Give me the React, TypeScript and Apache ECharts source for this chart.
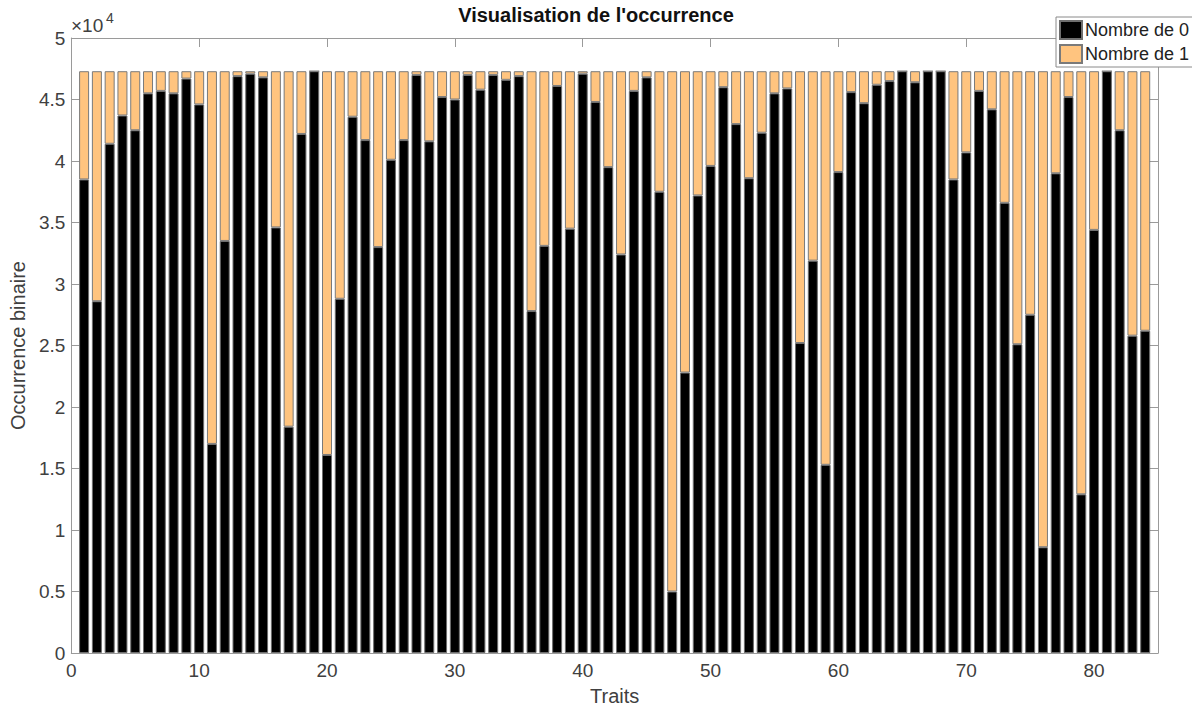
import React, { useEffect, useRef } from "react";
import * as echarts from "echarts";

const traits = [
  1, 2, 3, 4, 5, 6, 7, 8, 9, 10, 11, 12, 13, 14, 15, 16, 17, 18, 19, 20, 21,
  22, 23, 24, 25, 26, 27, 28, 29, 30, 31, 32, 33, 34, 35, 36, 37, 38, 39, 40,
  41, 42, 43, 44, 45, 46, 47, 48, 49, 50, 51, 52, 53, 54, 55, 56, 57, 58, 59,
  60, 61, 62, 63, 64, 65, 66, 67, 68, 69, 70, 71, 72, 73, 74, 75, 76, 77, 78,
  79, 80, 81, 82, 83, 84,
];

const nombreDe0 = [
  38500, 28600, 41400, 43700, 42500, 45500, 45700, 45500, 46700, 44600,
  17000, 33500, 46900, 47100, 46800, 34600, 18400, 42200, 47300, 16100,
  28800, 43600, 41700, 33000, 40100, 41700, 47000, 41600, 45200, 45000,
  47000, 45800, 47000, 46600, 46900, 27800, 33100, 46100, 34500, 47100,
  44800, 39500, 32400, 45700, 46800, 37500, 5000, 22800, 37200, 39600,
  46000, 43000, 38600, 42300, 45500, 45900, 25200, 31900, 15300, 39100,
  45600, 44700, 46200, 46500, 47300, 46400, 47300, 47300, 38500, 40700,
  45700, 44200, 36600, 25100, 27500, 8600, 39000, 45200, 12900, 34400,
  47300, 42500, 25800, 26200,
];

const nombreDe1 = [
  8800, 18700, 5900, 3600, 4800, 1800, 1600, 1800, 600, 2700,
  30300, 13800, 400, 200, 500, 12700, 28900, 5100, 0, 31200,
  18500, 3700, 5600, 14300, 7200, 5600, 300, 5700, 2100, 2300,
  300, 1500, 300, 700, 400, 19500, 14200, 1200, 12800, 200,
  2500, 7800, 14900, 1600, 500, 9800, 42300, 24500, 10100, 7700,
  1300, 4300, 8700, 5000, 1800, 1400, 22100, 15400, 32000, 8200,
  1700, 2600, 1100, 800, 0, 900, 0, 0, 8800, 6600,
  1600, 3100, 10700, 22200, 19800, 38700, 8300, 2100, 34400, 12900,
  0, 4800, 21500, 21100,
];

const seriesNames = ["Nombre de 0", "Nombre de 1"];
// x axis runs 0..85; the bars sit on the traits 1..84
const xAxisStart = 0;
const xAxisEnd = 85;
const xTickStep = 10;
const yMax = 50000;
const yTickStep = 5000;

const FONT = "'Liberation Sans', Arial, Helvetica, sans-serif";
const AXIS_COLOR = "#9a9a9a";
const LABEL_COLOR = "#404040";

export default function App() {
  const ref = useRef<HTMLDivElement>(null);

  useEffect(() => {
    if (!ref.current) return;
    const chart = echarts.init(ref.current, null, { renderer: "svg" });

    const xCategories = [String(xAxisStart), ...traits.map(String), String(xAxisEnd)];
    const d0 = [null, ...nombreDe0, null];
    const d1 = [null, ...nombreDe1, null];
    const showTick = (index: number) => index % xTickStep === 0;

    const xCommon = {
      type: "category" as const,
      data: xCategories,
      boundaryGap: false,
      splitLine: { show: false },
      axisLine: { show: true, onZero: false, lineStyle: { color: AXIS_COLOR, width: 1 } },
      axisTick: { show: true, inside: true, length: 9, interval: showTick, lineStyle: { color: AXIS_COLOR } },
    };
    const yCommon = {
      type: "value" as const,
      min: 0,
      max: yMax,
      interval: yTickStep,
      splitLine: { show: false },
      axisLine: { show: true, onZero: false, lineStyle: { color: AXIS_COLOR, width: 1 } },
      axisTick: { show: true, inside: true, length: 9, lineStyle: { color: AXIS_COLOR } },
    };

    chart.setOption({
      animation: false,
      backgroundColor: "#ffffff",
      textStyle: { fontFamily: FONT },
      title: {
        text: "Visualisation de l'occurrence",
        left: "center",
        top: 5,
        padding: 0,
        textStyle: { fontFamily: FONT, fontSize: 20, fontWeight: "bold", color: "#111" },
      },
      legend: {
        orient: "vertical",
        left: 1056,
        top: 17,
        padding: [3, 4, 3, 3],
        itemWidth: 22,
        itemHeight: 18,
        itemGap: 4,
        icon: "rect",
        borderColor: "#8a8a8a",
        borderWidth: 1,
        backgroundColor: "#ffffff",
        textStyle: { fontFamily: FONT, fontSize: 18, color: "#222", padding: [0, 0, 0, -2] },
        data: seriesNames,
      },
      grid: { left: 69, right: 34, top: 38, bottom: 53, containLabel: false },
      xAxis: [
        {
          ...xCommon,
          position: "bottom",
          name: "Traits",
          nameLocation: "middle",
          nameGap: 33,
          nameTextStyle: { fontFamily: FONT, fontSize: 20, color: LABEL_COLOR },
          axisLabel: {
            show: true,
            interval: showTick,
            fontFamily: FONT,
            fontSize: 19,
            color: LABEL_COLOR,
            margin: 8,
          },
        },
        {
          ...xCommon,
          position: "top",
          axisLabel: { show: false },
        },
      ],
      yAxis: [
        {
          ...yCommon,
          position: "left",
          name: "Occurrence binaire",
          nameLocation: "middle",
          nameGap: 38,
          nameTextStyle: { fontFamily: FONT, fontSize: 20, color: LABEL_COLOR },
          axisLabel: {
            show: true,
            fontFamily: FONT,
            fontSize: 19,
            color: LABEL_COLOR,
            margin: 6,
            formatter: (v: number) => String(v / 10000),
          },
        },
        {
          ...yCommon,
          position: "right",
          axisLabel: { show: false },
        },
      ],
      graphic: [
        {
          type: "text",
          left: 71,
          top: 16,
          style: { text: "×10", fontFamily: FONT, fontSize: 19, fill: LABEL_COLOR },
        },
        {
          type: "text",
          left: 106,
          top: 11,
          style: { text: "4", fontFamily: FONT, fontSize: 14, fill: LABEL_COLOR },
        },
      ],
      series: [
        {
          name: seriesNames[0],
          type: "bar",
          stack: "total",
          xAxisIndex: 0,
          yAxisIndex: 0,
          barWidth: 10,
          data: d0,
          itemStyle: { color: "#000000", borderColor: "#6e6e6e", borderWidth: 1 },
        },
        {
          name: seriesNames[1],
          type: "bar",
          stack: "total",
          xAxisIndex: 0,
          yAxisIndex: 0,
          barWidth: 10,
          data: d1,
          itemStyle: { color: "#FFC47F", borderColor: "#7a7a7a", borderWidth: 1 },
        },
      ],
    });

    return () => chart.dispose();
  }, []);

  return (
    <div
      ref={ref}
      style={{ position: "fixed", left: 0, top: 0, width: 1192, height: 711, background: "#fff" }}
    />
  );
}
